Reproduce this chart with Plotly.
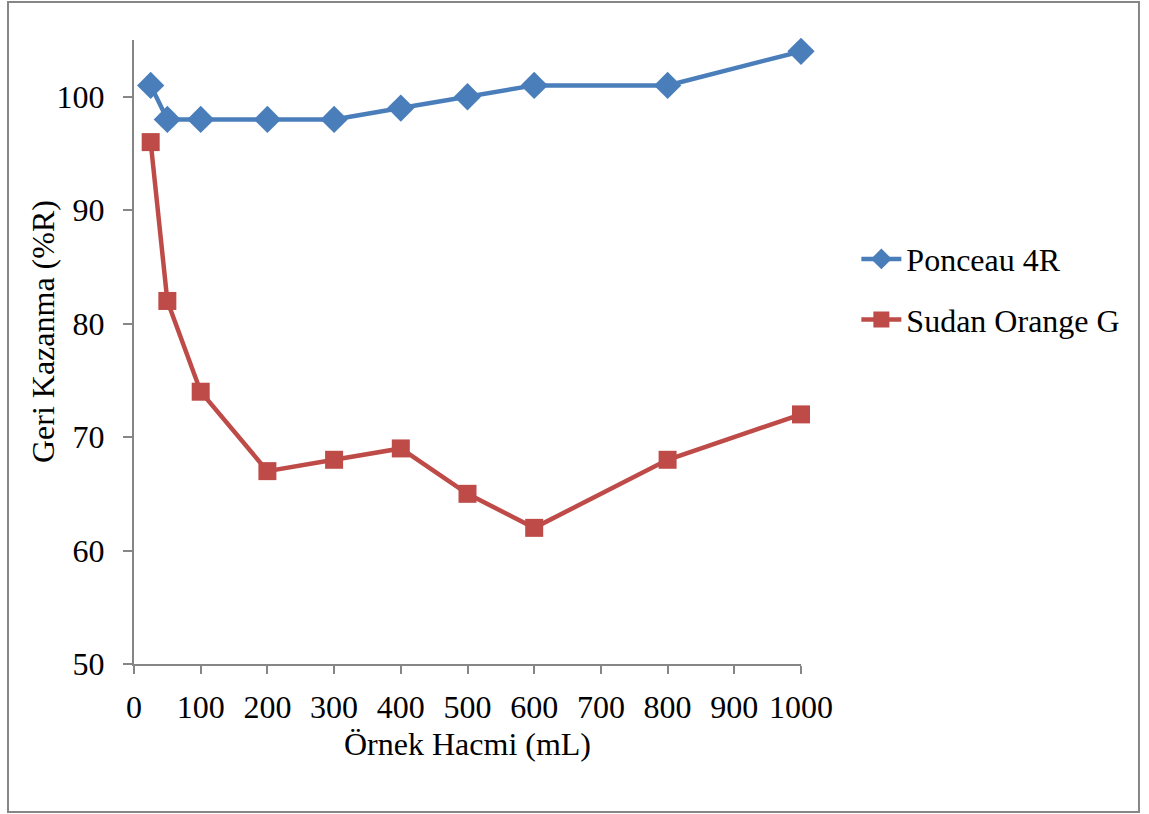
import plotly.graph_objects as go

# Sample volume (mL) and recovery (%R) for the two dyes
volume_ml = [25, 50, 100, 200, 300, 400, 500, 600, 800, 1000]
ponceau_4r = [101, 98, 98, 98, 98, 99, 100, 101, 101, 104]
sudan_orange_g = [96, 82, 74, 67, 68, 69, 65, 62, 68, 72]

x_ticks = [0, 100, 200, 300, 400, 500, 600, 700, 800, 900, 1000]
y_ticks = [50, 60, 70, 80, 90, 100]

x_title = "Örnek Hacmi (mL)"
y_title = "Geri Kazanma (%R)"

FONT = "Liberation Serif"
AXIS_GRAY = "#868686"
TEXT_FONT = dict(family=FONT, size=32, color="black")

fig = go.Figure()
fig.add_trace(go.Scatter(
    x=volume_ml, y=ponceau_4r, name="Ponceau 4R", mode="lines+markers",
    line=dict(color="#4A7EBB", width=4.5),
    marker=dict(symbol="diamond", size=21, color="#4A7EBB"),
    legendgroup="a", cliponaxis=False,
))
fig.add_trace(go.Scatter(
    x=volume_ml, y=sudan_orange_g, name="Sudan Orange G", mode="lines+markers",
    line=dict(color="#BE4B48", width=4.5),
    marker=dict(symbol="square", size=18, color="#BE4B48"),
    legendgroup="b", cliponaxis=False,
))

fig.update_layout(
    width=1149, height=814,
    margin=dict(l=134, r=348, t=40, b=150),
    paper_bgcolor="white", plot_bgcolor="white",
    font=TEXT_FONT,
    showlegend=True,
    legend=dict(
        x=1.083, y=0.6, xanchor="left", yanchor="middle",
        font=TEXT_FONT, tracegroupgap=16, itemwidth=40,
        bgcolor="rgba(0,0,0,0)",
    ),
    shapes=[dict(
        type="rect", xref="paper", yref="paper",
        x0=-0.1889, x1=1.5067, y0=-0.2372, y1=1.0609,
        line=dict(color=AXIS_GRAY, width=2), fillcolor="rgba(0,0,0,0)",
    )],
    annotations=[
        dict(text=x_title, xref="paper", yref="paper", x=0.5, y=-0.128,
             xanchor="center", yanchor="middle", showarrow=False,
             font=TEXT_FONT),
        dict(text=y_title, xref="paper", yref="paper", x=-0.1364, y=0.532,
             xanchor="center", yanchor="middle", showarrow=False,
             textangle=-90, font=TEXT_FONT),
    ],
)

fig.update_xaxes(
    range=[0, 1000], tickvals=x_ticks, showgrid=False, zeroline=False,
    showline=True, linecolor=AXIS_GRAY, linewidth=2,
    ticks="outside", ticklen=8, tickwidth=2, tickcolor=AXIS_GRAY,
    ticklabelstandoff=6, tickfont=TEXT_FONT,
)
fig.update_yaxes(
    range=[50, 105], tickvals=y_ticks, showgrid=False, zeroline=False,
    showline=True, linecolor=AXIS_GRAY, linewidth=2,
    ticks="outside", ticklen=9, tickwidth=2, tickcolor=AXIS_GRAY,
    ticklabelstandoff=12, tickfont=TEXT_FONT,
)

fig.write_html("out.html")
